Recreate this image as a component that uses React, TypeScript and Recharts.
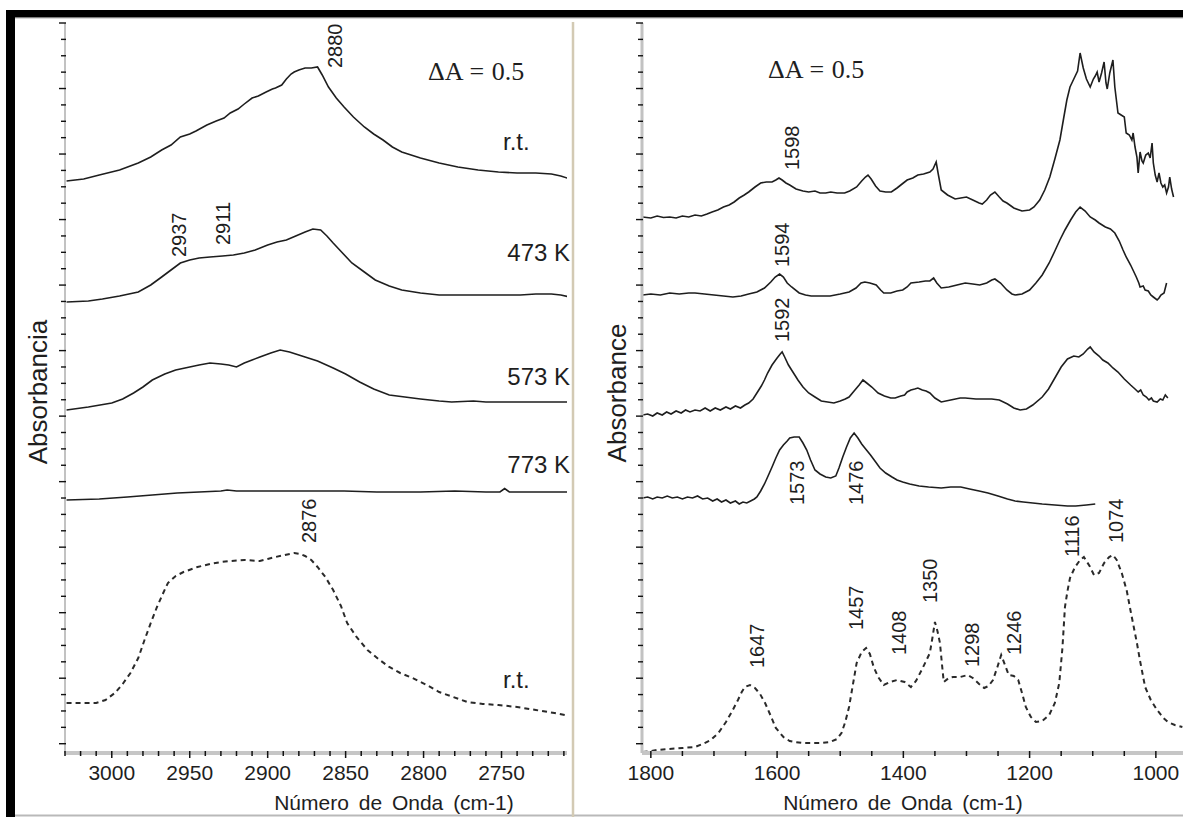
import React from 'react';
import { ComposedChart, Line, Scatter, XAxis, YAxis } from 'recharts';

type Pt = [number, number];

// C–H stretching region: [wavenumber cm-1, absorbance (stacked)]
const chRoomTemp: Pt[] = [
  [3029, 5.72], [3018, 5.74], [3008, 5.78], [2995, 5.83], [2983, 5.9], [2975, 5.96], [2968, 6.03],
  [2962, 6.08], [2956, 6.16], [2950, 6.19], [2946, 6.22], [2939, 6.28], [2933, 6.32], [2928, 6.35],
  [2924, 6.4], [2919, 6.44], [2915, 6.49], [2910, 6.55], [2906, 6.57], [2901, 6.61], [2897, 6.64],
  [2895, 6.65], [2891, 6.68], [2888, 6.74], [2885, 6.79], [2883, 6.81], [2880, 6.83], [2876, 6.85],
  [2872, 6.85], [2868, 6.86], [2865, 6.78], [2861, 6.66], [2856, 6.55], [2851, 6.46], [2845, 6.36],
  [2838, 6.26], [2832, 6.19], [2826, 6.13], [2820, 6.06], [2814, 6.01], [2802, 5.95], [2790, 5.9],
  [2778, 5.86], [2765, 5.83], [2752, 5.81], [2740, 5.8], [2728, 5.8], [2718, 5.79], [2712, 5.77],
  [2706, 5.74],
];
const ch473: Pt[] = [
  [3029, 4.51], [3015, 4.52], [3006, 4.54], [2995, 4.57], [2983, 4.61], [2975, 4.68], [2968, 4.76],
  [2962, 4.83], [2956, 4.9], [2950, 4.93], [2944, 4.95], [2937, 4.96], [2929, 4.97], [2922, 4.98],
  [2915, 5.0], [2908, 5.03], [2900, 5.08], [2894, 5.11], [2888, 5.13], [2882, 5.17], [2876, 5.21],
  [2871, 5.24], [2866, 5.23], [2862, 5.17], [2858, 5.1], [2852, 5.0], [2846, 4.9], [2838, 4.81],
  [2831, 4.73], [2822, 4.67], [2814, 4.63], [2802, 4.6], [2790, 4.58], [2770, 4.58], [2750, 4.58],
  [2738, 4.58], [2728, 4.59], [2718, 4.59], [2712, 4.58], [2706, 4.56],
];
const ch573: Pt[] = [
  [3029, 3.43], [3015, 3.46], [3000, 3.5], [2993, 3.54], [2986, 3.6], [2980, 3.66], [2974, 3.73],
  [2966, 3.79], [2959, 3.83], [2950, 3.86], [2944, 3.88], [2937, 3.9], [2930, 3.89], [2925, 3.88],
  [2920, 3.86], [2915, 3.9], [2910, 3.93], [2905, 3.96], [2898, 4.0], [2892, 4.03], [2886, 4.01],
  [2880, 3.98], [2876, 3.96], [2868, 3.92], [2858, 3.85], [2850, 3.79], [2841, 3.71], [2832, 3.64],
  [2822, 3.58], [2812, 3.56], [2802, 3.54], [2790, 3.52], [2782, 3.51], [2768, 3.52], [2760, 3.51],
  [2740, 3.51], [2706, 3.51],
];
const ch773: Pt[] = [
  [3029, 2.53], [3008, 2.54], [2990, 2.56], [2974, 2.58], [2958, 2.6], [2944, 2.61], [2930, 2.62],
  [2926, 2.63], [2920, 2.62], [2900, 2.62], [2880, 2.62], [2851, 2.62], [2830, 2.61], [2802, 2.61],
  [2780, 2.62], [2760, 2.61], [2751, 2.61], [2748, 2.645], [2745, 2.61], [2730, 2.61], [2706, 2.61],
];
const chReference: Pt[] = [
  [3029, 0.5], [3020, 0.5], [3010, 0.5], [3004, 0.53], [2998, 0.6], [2993, 0.69], [2988, 0.8],
  [2983, 0.95], [2979, 1.13], [2975, 1.3], [2971, 1.46], [2967, 1.6], [2964, 1.7], [2959, 1.77],
  [2954, 1.81], [2945, 1.86], [2937, 1.89], [2930, 1.91], [2924, 1.92], [2915, 1.93], [2905, 1.92],
  [2900, 1.94], [2895, 1.96], [2889, 1.98], [2883, 2.0], [2879, 1.99], [2876, 1.97], [2872, 1.93],
  [2868, 1.86], [2863, 1.76], [2858, 1.63], [2853, 1.47], [2849, 1.3], [2843, 1.16], [2836, 1.03],
  [2829, 0.94], [2822, 0.86], [2815, 0.8], [2807, 0.75], [2798, 0.68], [2790, 0.61], [2781, 0.56],
  [2772, 0.51], [2762, 0.49], [2752, 0.48], [2740, 0.46], [2728, 0.43], [2716, 0.4], [2706, 0.37],
];

// fingerprint region
const fpRoomTemp: Pt[] = [
  [1813, 5.36], [1800, 5.35], [1790, 5.37], [1780, 5.355], [1770, 5.36], [1760, 5.35], [1750, 5.37],
  [1740, 5.36], [1730, 5.38], [1720, 5.37], [1711, 5.39], [1703, 5.41], [1694, 5.43], [1685, 5.46],
  [1676, 5.48], [1668, 5.51], [1660, 5.55], [1652, 5.58], [1645, 5.61], [1635, 5.66], [1626, 5.7],
  [1617, 5.71], [1608, 5.71], [1602, 5.73], [1597, 5.75], [1592, 5.73], [1586, 5.7], [1580, 5.68],
  [1570, 5.64], [1559, 5.62], [1550, 5.61], [1540, 5.62], [1532, 5.6], [1523, 5.6], [1515, 5.61],
  [1505, 5.6], [1493, 5.6], [1485, 5.62], [1474, 5.66], [1466, 5.72], [1460, 5.76], [1456, 5.78],
  [1451, 5.74], [1444, 5.67], [1437, 5.62], [1428, 5.61], [1419, 5.61], [1410, 5.65], [1402, 5.69],
  [1394, 5.73], [1385, 5.75], [1377, 5.78], [1368, 5.79], [1358, 5.81], [1353, 5.84], [1348, 5.91],
  [1345, 5.8], [1340, 5.63], [1330, 5.58], [1318, 5.54], [1309, 5.55], [1300, 5.56], [1290, 5.53],
  [1280, 5.5], [1275, 5.49], [1268, 5.53], [1262, 5.58], [1255, 5.61], [1248, 5.56], [1242, 5.52],
  [1236, 5.5], [1225, 5.45], [1212, 5.42], [1200, 5.43], [1193, 5.46], [1184, 5.53], [1176, 5.63],
  [1168, 5.76], [1160, 5.94], [1152, 6.13], [1146, 6.35], [1141, 6.53], [1136, 6.66], [1130, 6.74],
  [1124, 6.82], [1120, 7.0], [1115, 6.85], [1110, 6.74], [1104, 6.66], [1099, 6.74], [1096, 6.77],
  [1093, 6.81], [1090, 6.71], [1086, 6.8], [1082, 6.91], [1079, 6.7], [1077, 6.64], [1073, 6.8],
  [1068, 6.93], [1065, 6.66], [1060, 6.4], [1055, 6.38], [1050, 6.36], [1047, 6.2], [1042, 6.18],
  [1038, 6.13], [1036, 6.2], [1033, 6.06], [1030, 5.96], [1028, 5.8], [1025, 6.01], [1022, 5.92],
  [1020, 5.9], [1016, 5.98], [1012, 6.0], [1009, 5.95], [1006, 6.1], [1004, 5.9], [1001, 5.78],
  [998, 5.71], [995, 5.8], [992, 5.7], [989, 5.66], [986, 5.68], [983, 5.6], [980, 5.66],
  [978, 5.76], [975, 5.64], [972, 5.56],
];
const fp473: Pt[] = [
  [1813, 4.58], [1800, 4.59], [1785, 4.58], [1770, 4.6], [1755, 4.59], [1740, 4.6], [1730, 4.6],
  [1715, 4.59], [1700, 4.58], [1685, 4.57], [1670, 4.56], [1657, 4.57], [1645, 4.59], [1632, 4.61],
  [1620, 4.65], [1610, 4.71], [1603, 4.76], [1596, 4.79], [1590, 4.76], [1584, 4.7], [1577, 4.66],
  [1565, 4.6], [1555, 4.58], [1546, 4.57], [1530, 4.57], [1516, 4.57], [1500, 4.59], [1486, 4.61],
  [1475, 4.65], [1467, 4.7], [1461, 4.71], [1453, 4.7], [1443, 4.68], [1436, 4.63], [1431, 4.6],
  [1420, 4.6], [1410, 4.62], [1401, 4.63], [1394, 4.66], [1388, 4.7], [1375, 4.71], [1365, 4.72],
  [1358, 4.72], [1352, 4.75], [1347, 4.7], [1340, 4.65], [1328, 4.66], [1315, 4.68], [1302, 4.7],
  [1290, 4.69], [1279, 4.68], [1268, 4.7], [1260, 4.73], [1255, 4.74], [1246, 4.7], [1236, 4.63],
  [1228, 4.59], [1223, 4.58], [1212, 4.59], [1200, 4.63], [1190, 4.7], [1180, 4.78], [1169, 4.9],
  [1160, 5.02], [1152, 5.13], [1144, 5.23], [1135, 5.33], [1127, 5.41], [1120, 5.46], [1112, 5.42],
  [1104, 5.36], [1096, 5.33], [1090, 5.3], [1080, 5.26], [1072, 5.24], [1065, 5.2], [1058, 5.12],
  [1052, 5.03], [1047, 4.96], [1040, 4.88], [1031, 4.76], [1027, 4.7], [1025, 4.66], [1020, 4.67],
  [1017, 4.63], [1012, 4.62], [1008, 4.58], [1004, 4.56], [998, 4.53], [995, 4.55], [992, 4.58],
  [987, 4.6], [983, 4.7],
];
const fp573: Pt[] = [
  [1813, 3.38], [1805, 3.39], [1797, 3.37], [1790, 3.4], [1782, 3.38], [1775, 3.41], [1768, 3.39],
  [1760, 3.42], [1752, 3.4], [1745, 3.43], [1738, 3.41], [1730, 3.43], [1722, 3.42], [1714, 3.45],
  [1706, 3.42], [1698, 3.45], [1690, 3.43], [1681, 3.46], [1674, 3.44], [1666, 3.47], [1658, 3.45],
  [1651, 3.48], [1645, 3.5], [1638, 3.54], [1632, 3.6], [1625, 3.67], [1620, 3.73], [1615, 3.8],
  [1608, 3.88], [1600, 3.95], [1595, 3.99], [1592, 4.01], [1588, 3.96], [1582, 3.88], [1575, 3.81],
  [1567, 3.73], [1559, 3.66], [1550, 3.6], [1540, 3.56], [1530, 3.52], [1520, 3.51], [1510, 3.5],
  [1500, 3.52], [1492, 3.54], [1486, 3.56], [1478, 3.62], [1470, 3.68], [1464, 3.73], [1458, 3.7],
  [1450, 3.66], [1440, 3.6], [1430, 3.57], [1420, 3.55], [1413, 3.55], [1404, 3.57], [1398, 3.58],
  [1394, 3.61], [1388, 3.63], [1382, 3.64], [1377, 3.65], [1370, 3.63], [1364, 3.62], [1358, 3.6],
  [1350, 3.55], [1340, 3.51], [1325, 3.53], [1310, 3.55], [1302, 3.55], [1285, 3.54], [1270, 3.54],
  [1260, 3.54], [1248, 3.53], [1235, 3.49], [1225, 3.45], [1215, 3.43], [1205, 3.44], [1195, 3.48],
  [1180, 3.56], [1170, 3.64], [1160, 3.75], [1150, 3.86], [1140, 3.94], [1130, 3.97], [1122, 3.96],
  [1115, 3.99], [1108, 4.04], [1104, 4.06], [1098, 4.01], [1090, 3.97], [1084, 3.93], [1076, 3.9],
  [1068, 3.85], [1060, 3.81], [1050, 3.74], [1040, 3.68], [1033, 3.64], [1028, 3.61], [1024, 3.63],
  [1020, 3.58], [1015, 3.56], [1011, 3.53], [1007, 3.55], [1004, 3.52], [998, 3.51], [993, 3.54],
  [989, 3.53], [985, 3.58], [981, 3.55],
];
const fp773: Pt[] = [
  [1813, 2.55], [1805, 2.56], [1797, 2.54], [1790, 2.56], [1782, 2.55], [1774, 2.57], [1766, 2.55],
  [1758, 2.56], [1750, 2.54], [1742, 2.56], [1734, 2.55], [1726, 2.57], [1718, 2.54], [1710, 2.55],
  [1702, 2.52], [1695, 2.54], [1688, 2.51], [1681, 2.53], [1674, 2.5], [1666, 2.52], [1660, 2.49],
  [1654, 2.51], [1648, 2.5], [1642, 2.52], [1636, 2.54], [1632, 2.56], [1626, 2.62], [1620, 2.69],
  [1615, 2.76], [1608, 2.86], [1602, 2.95], [1596, 3.03], [1590, 3.08], [1584, 3.12], [1580, 3.15],
  [1573, 3.16], [1565, 3.16], [1559, 3.1], [1553, 3.03], [1547, 2.93], [1540, 2.83], [1532, 2.79],
  [1523, 2.76], [1515, 2.75], [1507, 2.77], [1502, 2.85], [1496, 2.96], [1490, 3.06], [1484, 3.15],
  [1478, 3.2], [1472, 3.15], [1466, 3.09], [1461, 3.05], [1452, 2.98], [1445, 2.92], [1437, 2.85],
  [1428, 2.8], [1418, 2.76], [1410, 2.73], [1401, 2.71], [1390, 2.69], [1375, 2.67], [1360, 2.66],
  [1340, 2.65], [1325, 2.66], [1309, 2.66], [1295, 2.64], [1280, 2.62], [1266, 2.6], [1250, 2.57],
  [1235, 2.54], [1223, 2.52], [1210, 2.51], [1195, 2.5], [1180, 2.49], [1160, 2.48], [1140, 2.47],
  [1127, 2.47], [1110, 2.48], [1096, 2.49],
];
const fpReference: Pt[] = [
  [1813, 0.01], [1800, 0.02], [1790, 0.03], [1773, 0.04], [1750, 0.05], [1730, 0.06], [1718, 0.09],
  [1705, 0.13], [1693, 0.2], [1681, 0.31], [1671, 0.42], [1662, 0.53], [1656, 0.61], [1651, 0.66],
  [1643, 0.68], [1635, 0.65], [1627, 0.59], [1619, 0.5], [1610, 0.37], [1602, 0.25], [1590, 0.16],
  [1580, 0.12], [1572, 0.11], [1560, 0.1], [1546, 0.1], [1530, 0.1], [1516, 0.11], [1505, 0.14],
  [1498, 0.2], [1492, 0.31], [1486, 0.46], [1480, 0.68], [1474, 0.9], [1466, 1.01], [1459, 1.05],
  [1453, 0.99], [1447, 0.86], [1440, 0.76], [1431, 0.68], [1421, 0.71], [1410, 0.73], [1398, 0.71],
  [1388, 0.66], [1380, 0.72], [1371, 0.83], [1364, 0.92], [1358, 1.0], [1354, 1.15], [1350, 1.31],
  [1346, 1.22], [1342, 1.1], [1339, 0.9], [1336, 0.71], [1328, 0.75], [1321, 0.76], [1310, 0.76],
  [1298, 0.78], [1290, 0.75], [1280, 0.69], [1272, 0.65], [1265, 0.67], [1258, 0.73], [1251, 0.86],
  [1245, 0.98], [1239, 0.88], [1233, 0.78], [1225, 0.77], [1218, 0.73], [1212, 0.6], [1206, 0.46],
  [1198, 0.36], [1190, 0.31], [1180, 0.32], [1169, 0.38], [1160, 0.5], [1153, 0.7], [1148, 1.05],
  [1144, 1.46], [1140, 1.62], [1136, 1.75], [1128, 1.86], [1120, 1.93], [1114, 1.96], [1105, 1.87],
  [1098, 1.78], [1090, 1.8], [1082, 1.9], [1074, 1.96], [1068, 1.98], [1062, 1.93], [1054, 1.8],
  [1046, 1.62], [1040, 1.42], [1035, 1.26], [1030, 1.1], [1025, 0.92], [1017, 0.66], [1008, 0.53],
  [998, 0.43], [988, 0.35], [981, 0.31], [970, 0.28], [958, 0.26],
];

// tick positions and labelled ticks
const chTicks = Array.from({ length: 33 }, (_, i) => 3030 - i * 10);
const chTickLabels = [3000, 2950, 2900, 2850, 2800, 2750];
const fpTicks = Array.from({ length: 17 }, (_, i) => 1800 - i * 50);
const fpTickLabels = [1800, 1600, 1400, 1200, 1000];

// peak annotations (wavenumbers)
const chPeaks = [2880, 2937, 2911, 2876];
const fpPeaks = [1598, 1594, 1592, 1573, 1476, 1116, 1074, 1647, 1457, 1408, 1350, 1298, 1246];

// where each peak label sits: [pixel shift, absorbance level of the text's lower end]
const peakSpots: Record<number, [number, number]> = {
  2880: [36, 6.85], 2937: [-31, 4.96], 2911: [-27.5, 5.08], 2876: [3.5, 2.1],
  1598: [13.6, 5.83], 1594: [1, 4.86], 1592: [0, 4.11], 1573: [3, 2.48], 1476: [1, 2.48],
  1116: [-10.6, 1.96], 1074: [7, 2.1], 1647: [9.6, 0.85], 1457: [-11, 1.23], 1408: [0.7, 0.98],
  1350: [-5.4, 1.5], 1298: [4.3, 0.86], 1246: [13.4, 0.98],
};

const Y_TOP = 7.3;
const Y_STEP = 0.1638;
const yTicks = Array.from({ length: 45 }, (_, i) => +(Y_TOP - i * Y_STEP).toFixed(4));

const SANS = '"Liberation Sans", Arial, sans-serif';
const SERIF = '"Liberation Serif", "Times New Roman", serif';
const INK = '#1e1e1e';

const rows = (pts: Pt[]) => pts.map(([wn, a]) => ({ wn, a }));
const labelRows = (peaks: number[]) => peaks.map((wn) => ({ wn, a: peakSpots[wn][1] }));

const xTick = (labelled: number[]) => (props: any) => {
  const { x, y, payload } = props;
  const major = labelled.includes(payload.value);
  return (
    <g>
      <line x1={x} x2={x} y1={y - 2} y2={y + (major ? 5 : 3)} stroke="#111" strokeWidth={1.5} />
      {major && (
        <text x={x} y={y + 27} textAnchor="middle" fontSize={21} fontFamily={SANS} fill={INK}>
          {payload.value}
        </text>
      )}
    </g>
  );
};

const yTick = (props: any) => {
  const { x, y, payload } = props;
  const major = Math.round((Y_TOP - payload.value) / Y_STEP) % 4 === 0;
  return <line x1={x - (major ? 6 : 4)} x2={x + 1} y1={y} y2={y} stroke="#111" strokeWidth={1.4} />;
};

const peakLabel = (props: any) => {
  const { cx, cy, payload } = props;
  const px = cx + peakSpots[payload.wn][0];
  return (
    <text
      x={px}
      y={cy}
      transform={`rotate(-90 ${px} ${cy})`}
      textAnchor="start"
      dominantBaseline="central"
      fontSize={20}
      fontFamily={SANS}
      fill={INK}
    >
      {payload.wn}
    </text>
  );
};

function Panel(props: {
  width: number;
  marginLeft: number;
  marginRight: number;
  domain: [number, number];
  ticks: number[];
  tickLabels: number[];
  solid: Pt[][];
  dashed: Pt[];
  peaks: number[];
  yAxisWidth: number;
}) {
  const { width, marginLeft, marginRight, domain, ticks, tickLabels, solid, dashed, peaks, yAxisWidth } = props;
  return (
    <ComposedChart width={width} height={799} margin={{ top: 5, right: marginRight, left: marginLeft, bottom: 24 }}>
      <XAxis
        type="number"
        dataKey="wn"
        domain={domain}
        reversed
        allowDataOverflow
        ticks={ticks}
        interval={0}
        tick={xTick(tickLabels)}
        tickSize={0}
        tickMargin={0}
        tickLine={false}
        height={40}
        axisLine={{ stroke: '#c6c6c6', strokeWidth: 4 }}
      />
      <YAxis
        type="number"
        domain={[0, Y_TOP]}
        allowDataOverflow
        ticks={yTicks}
        interval={0}
        tick={yTick}
        tickSize={0}
        tickMargin={0}
        tickLine={false}
        width={10}
        axisLine={{ stroke: '#c2c2c2', strokeWidth: yAxisWidth }}
      />
      {solid.map((pts, i) => (
        <Line
          key={i}
          data={rows(pts)}
          dataKey="a"
          type="linear"
          dot={false}
          stroke={INK}
          strokeWidth={1.6}
          isAnimationActive={false}
        />
      ))}
      <Line
        data={rows(dashed)}
        dataKey="a"
        type="linear"
        dot={false}
        stroke="#2a2a2a"
        strokeWidth={2}
        strokeDasharray="5 4"
        isAnimationActive={false}
      />
      <Scatter data={labelRows(peaks)} dataKey="a" shape={peakLabel} isAnimationActive={false} />
    </ComposedChart>
  );
}

export default function App() {
  const txt = { fontFamily: SANS, fill: INK } as const;
  return (
    <div
      style={{
        position: 'fixed',
        left: 0,
        top: 0,
        width: 1183,
        height: 817,
        background: '#fff',
        overflow: 'hidden',
      }}
    >
      <div style={{ position: 'absolute', left: 15, top: 18 }}>
        <Panel
          width={558}
          marginLeft={40}
          marginRight={6}
          domain={[2708, 3030]}
          ticks={chTicks}
          tickLabels={chTickLabels}
          solid={[chRoomTemp, ch473, ch573, ch773]}
          dashed={chReference}
          peaks={chPeaks}
          yAxisWidth={2}
        />
      </div>
      <div style={{ position: 'absolute', left: 575, top: 18 }}>
        <Panel
          width={608}
          marginLeft={57}
          marginRight={0}
          domain={[957, 1814]}
          ticks={fpTicks}
          tickLabels={fpTickLabels}
          solid={[fpRoomTemp, fp473, fp573, fp773]}
          dashed={fpReference}
          peaks={fpPeaks}
          yAxisWidth={3}
        />
      </div>
      <svg
        width={1183}
        height={817}
        style={{ position: 'absolute', left: 0, top: 0, pointerEvents: 'none' }}
      >
        {/* frame */}
        <rect x={6} y={10} width={1177} height={7.5} fill="#000" />
        <rect x={6} y={10} width={9} height={807} fill="#000" />
        <line x1={15} x2={1183} y1={18.5} y2={18.5} stroke="#d8d8d8" strokeWidth={1} />
        <line x1={15} x2={1183} y1={815.5} y2={815.5} stroke="#b9b9b9" strokeWidth={2} />
        <line x1={573} x2={573} y1={22} y2={817} stroke="#d3cab4" strokeWidth={2.5} />

        {/* axis titles */}
        <text {...txt} x={38} y={392} fontSize={26} textAnchor="middle" dominantBaseline="central" transform="rotate(-90 38 392)">
          Absorbancia
        </text>
        <text {...txt} x={616.5} y={393} fontSize={26} textAnchor="middle" dominantBaseline="central" transform="rotate(-90 616.5 393)">
          Absorbance
        </text>
        <text {...txt} x={394} y={810} fontSize={21} textAnchor="middle" style={{ wordSpacing: 4 }}>
          Número de Onda (cm-1)
        </text>
        <text {...txt} x={903} y={810} fontSize={21} textAnchor="middle" style={{ wordSpacing: 4 }}>
          Número de Onda (cm-1)
        </text>

        {/* scale bars */}
        <text x={428} y={80} fontSize={26} fontFamily={SERIF} fill={INK} style={{ wordSpacing: 1 }}>ΔA = 0.5</text>
        <text x={768} y={78} fontSize={26} fontFamily={SERIF} fill={INK} style={{ wordSpacing: 1 }}>ΔA = 0.5</text>

        {/* spectrum names */}
        <text {...txt} x={503} y={150} fontSize={24}>r.t.</text>
        <text {...txt} x={570} y={261} fontSize={24} textAnchor="end">473 K</text>
        <text {...txt} x={570} y={385} fontSize={24} textAnchor="end">573 K</text>
        <text {...txt} x={570} y={473} fontSize={24} textAnchor="end">773 K</text>
        <text {...txt} x={503} y={688} fontSize={24}>r.t.</text>
      </svg>
    </div>
  );
}
